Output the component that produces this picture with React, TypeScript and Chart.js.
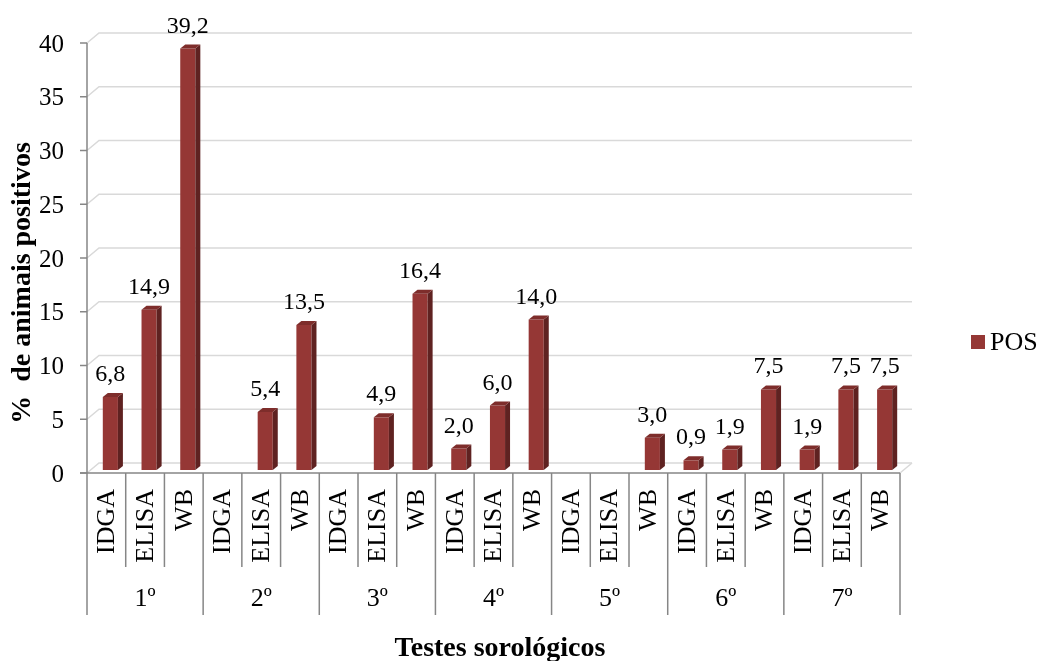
import React, { useEffect, useRef } from "react";
import { Chart, registerables } from "chart.js";

Chart.register(...registerables);

const categories = [
  "IDGA", "ELISA", "WB",
  "IDGA", "ELISA", "WB",
  "IDGA", "ELISA", "WB",
  "IDGA", "ELISA", "WB",
  "IDGA", "ELISA", "WB",
  "IDGA", "ELISA", "WB",
  "IDGA", "ELISA", "WB",
];
const groups = ["1º", "2º", "3º", "4º", "5º", "6º", "7º"];
const posValues: (number | null)[] = [
  6.8, 14.9, 39.2,
  null, 5.4, 13.5,
  null, 4.9, 16.4,
  2.0, 6.0, 14.0,
  null, null, 3.0,
  0.9, 1.9, 7.5,
  1.9, 7.5, 7.5,
];
const yTicks = [0, 5, 10, 15, 20, 25, 30, 35, 40];
const seriesName = "POS";
const yTitle = "%  de animais positivos";
const xTitle = "Testes sorológicos";

const FONT = "'Liberation Serif', 'Times New Roman', serif";
const DX = 12, DY = 10; // wall depth
const BX = 4, BY = 3; // bar depth position
const SX = 5, SY = 4; // bar side depth
const FRONT = "#953735";
const SIDE = "#5f2221";
const TOP = "#7e2d2b";

const fmt = (v: number) => v.toFixed(1).replace(".", ",");

const plugin = {
  id: "excel3d",
  beforeDatasetsDraw(chart: any) {
    const { ctx, chartArea, scales } = chart;
    const y = scales.y;
    ctx.save();
    ctx.strokeStyle = "#d9d9d9";
    ctx.lineWidth = 1.5;
    yTicks.forEach((t) => {
      const py = y.getPixelForValue(t);
      ctx.beginPath();
      ctx.moveTo(chartArea.left, py);
      ctx.lineTo(chartArea.left + DX, py - DY);
      ctx.lineTo(chartArea.right + DX, py - DY);
      ctx.stroke();
    });
    const p0 = y.getPixelForValue(0);
    ctx.beginPath();
    ctx.moveTo(chartArea.right, p0);
    ctx.lineTo(chartArea.right + DX, p0 - DY);
    ctx.stroke();
    ctx.restore();
    ctx.save();
    ctx.translate(BX, -BY);
  },
  afterDatasetsDraw(chart: any) {
    const { ctx } = chart;
    const meta = chart.getDatasetMeta(0);
    meta.data.forEach((bar: any, i: number) => {
      const v = posValues[i];
      if (v === null) return;
      const { x, y, base, width } = bar.getProps(["x", "y", "base", "width"], true);
      const l = x - width / 2, r = x + width / 2;
      ctx.fillStyle = SIDE;
      ctx.beginPath();
      ctx.moveTo(r, y);
      ctx.lineTo(r + SX, y - SY);
      ctx.lineTo(r + SX, base - SY);
      ctx.lineTo(r, base);
      ctx.closePath();
      ctx.fill();
      ctx.fillStyle = TOP;
      ctx.beginPath();
      ctx.moveTo(l, y);
      ctx.lineTo(l + SX, y - SY);
      ctx.lineTo(r + SX, y - SY);
      ctx.lineTo(r, y);
      ctx.closePath();
      ctx.fill();
    });
    ctx.restore();
    // data labels
    ctx.save();
    ctx.fillStyle = "#000";
    ctx.font = `24px ${FONT}`;
    ctx.textAlign = "center";
    ctx.textBaseline = "alphabetic";
    meta.data.forEach((bar: any, i: number) => {
      const v = posValues[i];
      if (v === null) return;
      const { x, y } = bar.getProps(["x", "y"], true);
      ctx.fillText(fmt(v), x + BX, y - BY - 16);
    });
    ctx.restore();
  },
  afterDraw(chart: any) {
    const { ctx, chartArea, scales } = chart;
    const y = scales.y;
    const xs = scales.x;
    const left = chartArea.left, right = chartArea.right;
    const bottom = y.getPixelForValue(0);
    const cw = (right - left) / categories.length;
    ctx.save();
    ctx.strokeStyle = "#868686";
    ctx.lineWidth = 1.5;
    // y axis
    ctx.beginPath();
    ctx.moveTo(left, y.getPixelForValue(40));
    ctx.lineTo(left, bottom);
    ctx.stroke();
    yTicks.forEach((t) => {
      const py = y.getPixelForValue(t);
      ctx.beginPath();
      ctx.moveTo(left - 7, py);
      ctx.lineTo(left, py);
      ctx.stroke();
    });
    // x axis
    ctx.beginPath();
    ctx.moveTo(left - 7, bottom);
    ctx.lineTo(right, bottom);
    ctx.stroke();
    // separators
    for (let k = 0; k <= categories.length; k++) {
      const px = left + k * cw;
      const isGroup = k % 3 === 0;
      ctx.beginPath();
      ctx.moveTo(px, bottom);
      ctx.lineTo(px, isGroup ? 615 : 567);
      ctx.stroke();
    }
    // y tick labels
    ctx.fillStyle = "#000";
    ctx.font = `25px ${FONT}`;
    ctx.textAlign = "right";
    ctx.textBaseline = "middle";
    yTicks.forEach((t) => {
      ctx.fillText(String(t), 64, y.getPixelForValue(t) + 2);
    });
    // category labels
    ctx.font = `26px ${FONT}`;
    categories.forEach((c, i) => {
      const px = xs.getPixelForValue(i);
      ctx.save();
      ctx.translate(px + 1, 489);
      ctx.rotate(-Math.PI / 2);
      ctx.textAlign = "right";
      ctx.textBaseline = "middle";
      ctx.fillText(c, 0, 0);
      ctx.restore();
    });
    // group labels
    ctx.textAlign = "center";
    ctx.textBaseline = "middle";
    groups.forEach((g, gi) => {
      const px = left + (gi * 3 + 1.5) * cw;
      ctx.fillText(g, px, 599);
    });
    // titles
    ctx.font = `bold 28px ${FONT}`;
    ctx.fillText(xTitle, 500, 649);
    ctx.save();
    ctx.translate(23, 283);
    ctx.rotate(-Math.PI / 2);
    ctx.fillText(yTitle, 0, 0);
    ctx.restore();
    // legend
    ctx.fillStyle = FRONT;
    ctx.fillRect(971, 335, 14, 14);
    ctx.fillStyle = "#000";
    ctx.font = `26px ${FONT}`;
    ctx.textAlign = "left";
    ctx.fillText(seriesName, 990, 343);
    ctx.restore();
  },
};

export default function App() {
  const ref = useRef<HTMLCanvasElement>(null);
  useEffect(() => {
    if (!ref.current) return;
    const chart = new Chart(ref.current, {
      type: "bar",
      data: {
        labels: categories,
        datasets: [
          {
            label: seriesName,
            data: posValues,
            backgroundColor: FRONT,
            borderWidth: 0,
            barPercentage: 0.39,
            categoryPercentage: 1,
          },
        ],
      },
      options: {
        responsive: false,
        animation: false,
        events: [],
        layout: { padding: { left: 87, top: 43, right: 1039 - 900, bottom: 661 - 473 } },
        plugins: { legend: { display: false }, tooltip: { enabled: false } },
        scales: {
          x: { display: false, offset: true },
          y: { display: false, min: 0, max: 40, ticks: { stepSize: 5 } },
        },
      },
      plugins: [plugin],
    });
    return () => chart.destroy();
  }, []);
  return (
    <div style={{ position: "fixed", left: 0, top: 0, width: 1039, height: 661, background: "#fff" }}>
      <canvas ref={ref} width={1039} height={661} />
    </div>
  );
}
